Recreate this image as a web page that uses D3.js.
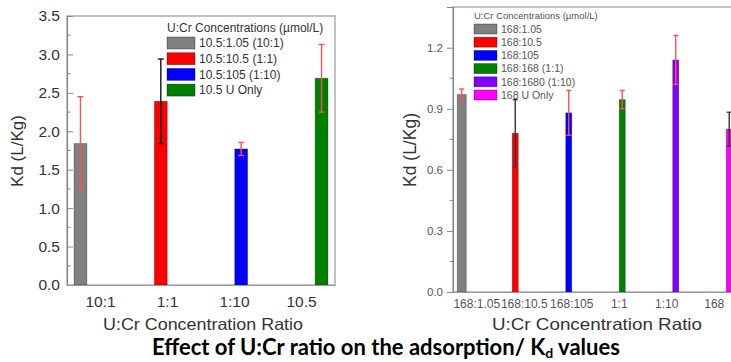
<!DOCTYPE html>
<html>
<head>
<meta charset="utf-8">
<script src="https://cdn.jsdelivr.net/npm/d3@7"></script>
<style>
  body { margin: 0; background: #fff; }
  svg { display: block; font-family: "Liberation Sans", Arial, sans-serif; }
</style>
</head>
<body>
<svg id="mysvg"></svg>
<script>
const w = 731, h = 362;

// left panel: 10.5 umol/L U
const leftCats = ["10:1", "1:1", "1:10", "10.5"];
const leftSeries = ["10.5:1.05 (10:1)", "10.5:10.5 (1:1)", "10.5:105 (1:10)", "10.5 U Only"];
const leftValues = [1.84, 2.39, 1.77, 2.69];
const leftErrors = [0.61, 0.55, 0.085, 0.44];
const leftYTicks = [0, 0.5, 1.0, 1.5, 2.0, 2.5, 3.0, 3.5];

// right panel: 168 umol/L U
const rightCats = ["168:1.05", "168:10.5", "168:105", "1:1", "1:10", "168"];
const rightSeries = ["168:1.05", "168:10.5", "168:105", "168:168 (1:1)", "168:1680 (1:10)", "168 U Only"];
const rightValues = [0.97, 0.78, 0.88, 0.945, 1.14, 0.80];
const rightErrors = [0.027, 0.165, 0.11, 0.045, 0.12, 0.083];
const rightYTicks = [0, 0.3, 0.6, 0.9, 1.2];

const leftColors = ["#808080", "#ff0000", "#0000ff", "#008000"];
const leftErrColors = ["#ff5050", "#111", "#ff5050", "#ff5050"];
const rightColors = ["#808080", "#ff0000", "#0000ff", "#008000", "#8000ff", "#ff00ff"];
const rightErrColors = ["#ff5050", "#333", "#ff5050", "#ff5050", "#ff5050", "#333"];

const svg = d3.select("#mysvg")
    .attr("width", w)
    .attr("height", h);

function drawPanel(opt) {
    const g = svg.append("g");

    const xGroup = d3.scaleBand()
        .domain(opt.cats)
        .range([opt.x0, opt.x1]);

    const xSub = d3.scaleBand()
        .domain(opt.series)
        .range(opt.subRange)
        .padding(opt.subPad);

    const yScale = d3.scaleLinear()
        .domain([0, opt.yMax])
        .range([opt.y0, opt.y1]);

    // frame
    g.append("rect")
        .attr("x", opt.x0).attr("y", opt.y1)
        .attr("width", opt.x1 - opt.x0).attr("height", opt.y0 - opt.y1)
        .attr("fill", "none")
        .attr("stroke", "#999")
        .attr("stroke-width", 1.2);

    // bars
    const barX = i => xGroup(opt.cats[i]) + xSub(opt.series[i]);
    g.selectAll(".bar")
        .data(opt.values)
        .enter().append("rect")
        .attr("class", "bar")
        .attr("x", (d, i) => barX(i) - opt.barGrow[i] / 2)
        .attr("y", d => yScale(d))
        .attr("width", (d, i) => xSub.bandwidth() + opt.barGrow[i])
        .attr("height", d => yScale(0) - yScale(d))
        .attr("fill", (d, i) => opt.colors[i])
        .attr("stroke", "rgba(0,0,0,0.35)")
        .attr("stroke-width", 0.8);

    // error bars
    const err = g.selectAll(".err")
        .data(opt.values)
        .enter().append("g")
        .attr("class", "err")
        .attr("stroke", (d, i) => opt.errColors[i])
        .attr("stroke-width", 1.4);
    const cx = i => barX(i) + xSub.bandwidth() / 2;
    err.append("line")
        .attr("x1", (d, i) => cx(i)).attr("x2", (d, i) => cx(i))
        .attr("y1", (d, i) => yScale(d + opt.errors[i]))
        .attr("y2", (d, i) => yScale(d - opt.errors[i]));
    err.append("line")
        .attr("x1", (d, i) => cx(i) - opt.cap).attr("x2", (d, i) => cx(i) + opt.cap)
        .attr("y1", (d, i) => yScale(d + opt.errors[i]))
        .attr("y2", (d, i) => yScale(d + opt.errors[i]));
    err.append("line")
        .attr("x1", (d, i) => cx(i) - opt.cap).attr("x2", (d, i) => cx(i) + opt.cap)
        .attr("y1", (d, i) => yScale(d - opt.errors[i]))
        .attr("y2", (d, i) => yScale(d - opt.errors[i]));

    // y axis
    const yAxis = g.append("g")
        .attr("transform", "translate(" + opt.x0 + ",0)")
        .call(d3.axisLeft(yScale)
            .tickValues(opt.yTicks)
            .tickFormat(d3.format(".1f"))
            .tickSize(opt.tickDir * 6)
            .tickPadding(opt.tickPad));
    yAxis.select(".domain").attr("stroke", "#888").attr("stroke-width", 1.2);
    yAxis.selectAll(".tick line").attr("stroke", "#888");
    yAxis.selectAll("text")
        .attr("fill", opt.textColor)
        .style("font-size", opt.tickFont + "px");

    // minor ticks
    const minor = d3.range(0, opt.yTicks.length - 1).map(i => (opt.yTicks[i] + opt.yTicks[i + 1]) / 2);
    g.selectAll(".minor")
        .data(minor)
        .enter().append("line")
        .attr("x1", opt.x0).attr("x2", opt.x0 - opt.tickDir * 3.5)
        .attr("y1", d => yScale(d)).attr("y2", d => yScale(d))
        .attr("stroke", "#888");

    // x axis
    const xAxis = g.append("g")
        .attr("transform", "translate(0," + opt.y0 + ")")
        .call(d3.axisBottom(xGroup).tickSize(0).tickPadding(opt.xPad));
    xAxis.select(".domain").attr("stroke", "#999").attr("stroke-width", 1.2);
    xAxis.selectAll("text")
        .attr("fill", opt.textColor)
        .style("font-size", opt.xFont + "px");

    // axis titles
    g.append("text")
        .attr("x", opt.xTitle[0]).attr("y", opt.xTitle[1])
        .attr("text-anchor", "middle")
        .attr("fill", "#333")
        .attr("textLength", opt.xTitle[2])
        .attr("lengthAdjust", "spacingAndGlyphs")
        .style("font-size", opt.titleFont + "px")
        .text("U:Cr Concentration Ratio");
    g.append("text")
        .attr("transform", "translate(" + opt.yTitle[0] + "," + opt.yTitle[1] + ") rotate(-90)")
        .attr("text-anchor", "middle")
        .attr("fill", "#333")
        .style("font-size", opt.yTitle[2] + "px")
        .text("Kd (L/Kg)");

    // legend
    const lg = g.append("g").attr("transform", "translate(" + opt.leg[0] + "," + opt.leg[1] + ")");
    lg.append("text")
        .attr("x", 0).attr("y", 0)
        .attr("fill", opt.legColor)
        .style("font-size", opt.legTitleFont + "px")
        .text("U:Cr Concentrations (\u00b5mol/L)");
    const row = lg.selectAll(".row")
        .data(opt.series)
        .enter().append("g")
        .attr("class", "row")
        .attr("transform", (d, i) => "translate(0," + (opt.legTop + i * opt.legStep) + ")");
    row.append("rect")
        .attr("width", opt.sw[0]).attr("height", opt.sw[1])
        .attr("fill", (d, i) => opt.colors[i])
        .attr("stroke", "rgba(0,0,0,0.4)")
        .attr("stroke-width", 0.8);
    row.append("text")
        .attr("x", opt.sw[0] + 4)
        .attr("y", opt.sw[1] / 2)
        .attr("dy", "0.36em")
        .attr("fill", opt.legColor)
        .style("font-size", opt.legFont + "px")
        .text(d => d);
}

drawPanel({
    cats: leftCats, series: leftSeries, values: leftValues, errors: leftErrors,
    colors: leftColors, errColors: leftErrColors, yTicks: leftYTicks, yMax: 3.5,
    x0: 67, x1: 335, y0: 285, y1: 16,
    subRange: [6.5, 60.5], subPad: 0.04, cap: 3, barGrow: [0, 0, 0, 0],
    tickDir: -1, tickPad: 7, tickFont: 15.5, xFont: 15.5, xPad: 11,
    textColor: "#333",
    xTitle: [203, 330, 200], yTitle: [23, 151, 17], titleFont: 16.5,
    leg: [167, 32], legTop: 5, legStep: 15.7, sw: [28, 12],
    legTitleFont: 12, legFont: 12, legColor: "#333"
});

drawPanel({
    cats: rightCats, series: rightSeries, values: rightValues, errors: rightErrors,
    colors: rightColors, errColors: rightErrColors, yTicks: rightYTicks, yMax: 1.4,
    x0: 453, x1: 738, y0: 292, y1: 7,
    subRange: [5.75, 41.75], subPad: 0, cap: 2.5, barGrow: [3, 0, 0, 0, 0, 0],
    tickDir: 1, tickPad: 4, tickFont: 11.5, xFont: 12, xPad: 7,
    textColor: "#555",
    xTitle: [597, 330, 210], yTitle: [416, 150, 17.5], titleFont: 16.5,
    leg: [474, 19], legTop: 5, legStep: 13.2, sw: [23, 10],
    legTitleFont: 9.5, legFont: 10.5, legColor: "#555"
});

// caption
const cap = svg.append("text")
    .attr("x", 152).attr("y", 355)
    .attr("fill", "#000")
    .style("font-family", "Lato, 'Liberation Sans', sans-serif")
    .style("font-size", "22px")
    .style("font-weight", "bold");
cap.append("tspan").text("Effect of U:Cr ratio on the adsorption/ K");
cap.append("tspan").attr("dy", 3).style("font-size", "14px").text("d");
cap.append("tspan").attr("dy", -3).text(" values");
</script>
</body>
</html>
